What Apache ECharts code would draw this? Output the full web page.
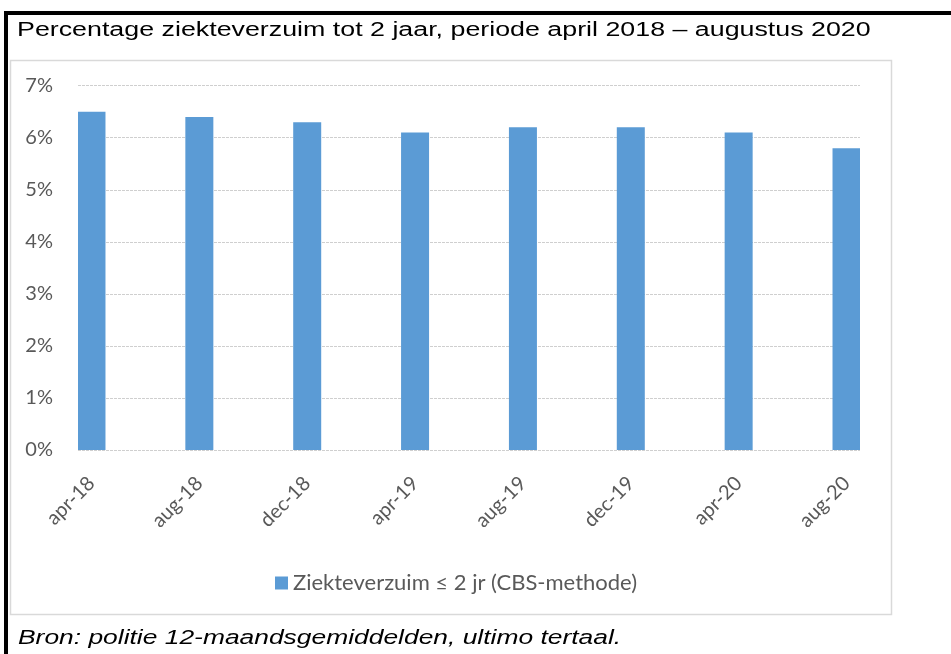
<!DOCTYPE html>
<html>
<head>
<meta charset="utf-8">
<script src="https://cdn.jsdelivr.net/npm/echarts@6/dist/echarts.min.js"></script>
<style>
  html, body { margin: 0; padding: 0; background: #ffffff; overflow: hidden; }
  #chart { width: 951px; height: 654px; }
</style>
</head>
<body>
<div id="chart"></div>
<script>
// ---- data ----
const titleText = 'Percentage ziekteverzuim tot 2 jaar, periode april 2018 \u2013 augustus 2020';
const sourceText = 'Bron: politie 12-maandsgemiddelden, ultimo tertaal.';
const seriesName = 'Ziekteverzuim \u2264 2 jr (CBS-methode)';
const categories = ['apr-18', 'aug-18', 'dec-18', 'apr-19', 'aug-19', 'dec-19', 'apr-20', 'aug-20'];
const values = [6.5, 6.4, 6.3, 6.1, 6.2, 6.2, 6.1, 5.8];
const yMin = 0, yMax = 7, yStep = 1;
const monthsPerStep = 4; // reference uses a monthly date axis; data every 4 months

// ---- build monthly slots (date-axis style) ----
const slotCount = (categories.length - 1) * monthsPerStep + 1;
const axisData = [];
const seriesData = [];
for (let k = 0; k < slotCount; k++) { axisData.push('_' + k); seriesData.push('-'); }
categories.forEach((c, i) => { axisData[i * monthsPerStep] = c; seriesData[i * monthsPerStep] = values[i]; });

const labelFont = 'Lato, "Open Sans", sans-serif';
const chart = echarts.init(document.getElementById('chart'), null, { renderer: 'canvas' });
chart.setOption({
  animation: false,
  backgroundColor: '#ffffff',
  graphic: [
    { type: 'rect', shape: { x: 10.5, y: 60.5, width: 881, height: 554 },
      style: { fill: '#ffffff', stroke: '#d9d9d9', lineWidth: 1.5 }, z: -10 },
    { type: 'line', shape: { x1: 4, y1: 13, x2: 951, y2: 13 },
      style: { stroke: '#000000', lineWidth: 4 }, z: 10 },
    { type: 'line', shape: { x1: 6, y1: 11, x2: 6, y2: 654 },
      style: { stroke: '#000000', lineWidth: 4 }, z: 10 },
    { type: 'text', x: 17, y: 30, scaleX: 1.34, scaleY: 1,
      style: { text: titleText, fill: '#000000', font: '20px "Liberation Sans", Arial, sans-serif',
               textAlign: 'left', textVerticalAlign: 'middle', verticalAlign: 'middle' } },
    { type: 'text', x: 18, y: 638, scaleX: 1.32, scaleY: 1,
      style: { text: sourceText, fill: '#000000', font: 'italic 20px "Liberation Sans", Arial, sans-serif',
               textAlign: 'left', textVerticalAlign: 'middle', verticalAlign: 'middle' } }
  ],
  legend: {
    left: 270, top: 567,
    itemWidth: 13, itemHeight: 13, icon: 'rect',
    textStyle: { color: '#595959', fontSize: 22, fontFamily: labelFont },
    data: [seriesName]
  },
  grid: { left: 78, right: 91, top: 85.7, bottom: 204, containLabel: false },
  xAxis: {
    type: 'category',
    data: axisData,
    boundaryGap: true,
    axisLine: { show: false },
    axisTick: { show: false },
    axisLabel: {
      interval: (idx) => idx % monthsPerStep === 0,
      rotate: 45, margin: 30,
      color: '#595959', fontSize: 20, fontFamily: labelFont
    },
    splitLine: { show: false }
  },
  yAxis: {
    type: 'value', min: yMin, max: yMax, interval: yStep,
    axisLine: { show: false }, axisTick: { show: false },
    axisLabel: { formatter: '{value}%', margin: 25, color: '#595959', fontSize: 20, fontFamily: labelFont },
    splitLine: { show: true, lineStyle: { color: '#cfcfcf', width: 1, type: [3, 1] } }
  },
  series: [{
    name: seriesName,
    type: 'bar',
    data: seriesData,
    barWidth: 28,
    itemStyle: { color: '#5b9bd5' }
  }]
});
</script>
</body>
</html>
